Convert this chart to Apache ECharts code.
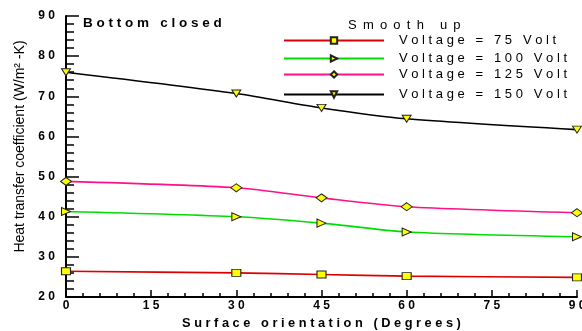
<!DOCTYPE html>
<html><head><meta charset="utf-8">
<script src="https://cdn.jsdelivr.net/npm/echarts@6/dist/echarts.min.js"></script>
<style>html,body{margin:0;padding:0;background:#fff}#c{width:582px;height:331px}</style>
</head><body><div id="c"></div>
<script>
const xValues = [0, 30, 45, 60, 90];
const v75  = [26.4, 26.0, 25.6, 25.2, 24.9];
const v100 = [41.3, 40.0, 38.4, 36.2, 35.0];
const v125 = [48.8, 47.2, 44.7, 42.5, 41.0];
const v150 = [76.0, 70.7, 67.1, 64.4, 61.7];
const seriesNames = ['Voltage = 75 Volt', 'Voltage = 100 Volt', 'Voltage = 125 Volt', 'Voltage = 150 Volt'];
const xTitle = 'Surface orientation (Degrees)';
const yTitle = 'Heat transfer coefficient (W/m\u00B2 -K)';
const noteText = 'Bottom closed';
const legendTitle = 'Smooth up';

const spread = (s, g) => s.split('').join(g || ' ');
const font = 'Liberation Sans, Arial, sans-serif';

const chart = echarts.init(document.getElementById('c'), null, {renderer: 'canvas'});
const pair = a => xValues.map((x, i) => [x, a[i]]);
const mk = (name, data, color, symbol, size, rot) => ({
  name, type: 'line', data: pair(data), smooth: 0.25,
  lineStyle: {color, width: 1.6}, itemStyle: {color: '#ffff00', borderColor: '#222', borderWidth: 1},
  color, symbol, symbolSize: size, symbolRotate: rot, showAllSymbol: true, z: 3
});
const legendTops = [34, 52, 68, 88];
chart.setOption({
  animation: false,
  backgroundColor: '#fff',
  grid: {left: 66, right: 5, top: 16, bottom: 34, containLabel: false, outerBoundsMode: 'none'},
  xAxis: {
    type: 'value', min: 0, max: 90, interval: 15,
    name: spread(xTitle), nameLocation: 'middle', nameGap: 19,
    nameTextStyle: {fontFamily: font, fontWeight: 'bold', fontSize: 12.8, color: '#000'},
    axisLine: {lineStyle: {color: '#000', width: 2}},
    axisTick: {inside: true, length: 7, lineStyle: {color: '#000', width: 1.5}},
    minorTick: {show: true, splitNumber: 5, length: 4, lineStyle: {color: '#000', width: 1.5}},
    splitLine: {show: false},
    axisLabel: {formatter: v => spread(String(v)), fontFamily: font, fontWeight: 'bold', fontSize: 12, color: '#000', margin: 3, hideOverlap: false}
  },
  yAxis: {
    type: 'value', min: 20, max: 90, interval: 10,
    name: yTitle, nameLocation: 'middle', nameGap: 34,
    nameTextStyle: {fontFamily: font, fontSize: 14, color: '#000', padding: [0, 0, 0, 20]},
    axisLine: {lineStyle: {color: '#000', width: 2}},
    axisTick: {inside: true, length: 13, lineStyle: {color: '#000', width: 1.5}},
    minorTick: {show: true, splitNumber: 5, length: 8, lineStyle: {color: '#000', width: 1.5}},
    splitLine: {show: false},
    axisLabel: {formatter: v => spread(String(v)), fontFamily: font, fontWeight: 'bold', fontSize: 12, color: '#000', margin: 11}
  },
  legend: seriesNames.map((n, i) => ({
    data: [n], left: 283, top: legendTops[i], orient: 'vertical', padding: 0,
    itemWidth: 100, itemHeight: 8, formatter: s => spread(s),
    textStyle: {fontFamily: font, fontSize: 13, color: '#000', padding: [0, 0, 0, 10]}
  })),
  graphic: [
    {type: 'text', left: 83, top: 16, style: {text: spread(noteText), font: 'bold 13.5px ' + font, fill: '#000'}},
    {type: 'text', left: 348, top: 19, style: {text: spread(legendTitle, ' \u2009'), font: '13px ' + font, fill: '#000'}}
  ],
  series: [
    mk(seriesNames[0], v75, '#dd0000', 'rect', [9, 7], 0),
    mk(seriesNames[1], v100, '#00dd00', 'triangle', [8, 9], -90),
    mk(seriesNames[2], v125, '#ff1088', 'diamond', [11, 8], 0),
    mk(seriesNames[3], v150, '#000000', 'triangle', [9, 7], 180)
  ]
});
</script></body></html>
